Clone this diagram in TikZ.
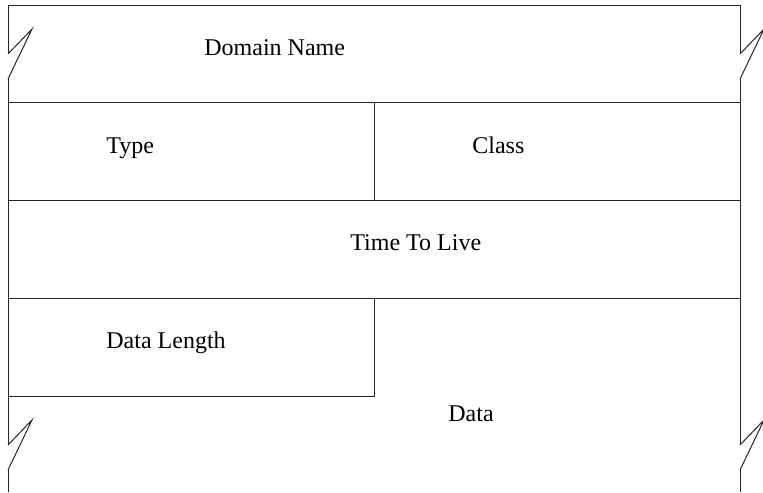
\documentclass[tikz,border=0pt]{standalone}
\usepackage{fontspec}
\setmainfont{Liberation Serif}
\usetikzlibrary{calc}
\def\breakmark(#1,#2){\draw[rrline] (#1, #2) -- ($(#1, #2)+(24, -25)$) -- ($(#1, #2)+(0, 25)$);}
\tikzset{
  rrline/.style={line width=0.5pt, color=black!85},
  fieldtext/.style={font=\fontsize{12}{14}\selectfont, inner sep=0pt, anchor=base west}
}

\begin{document}
\begin{tikzpicture}[x=0.5pt, y=-0.5pt]
		%%%%% START %%%%%
		\useasboundingbox (0, 0) rectangle (763, 492);

		% outer frame with breaks
		\draw[rrline] (8, 54) -- (8, 6) -- (740, 6) -- (740, 54);
		\breakmark(8, 54)
		\breakmark(740, 54)
		\draw[rrline] (8, 79) -- (8, 445);
		\draw[rrline] (740, 79) -- (740, 445);
		\breakmark(8, 445)
		\breakmark(740, 445)
		\draw[rrline] (8, 469) -- (8, 492);
		\draw[rrline] (740, 469) -- (740, 492);

		% field rows
		\draw[rrline] (8, 102) -- (740, 102);
		\draw[rrline] (8, 200) -- (740, 200);
		\draw[rrline] (8, 298) -- (740, 298);
		\draw[rrline] (374, 102) -- (374, 200);
		\draw[rrline] (374, 298) -- (374, 396) -- (8, 396);

		\node[fieldtext] (domain) at (204, 55) {Domain Name};
		\node[fieldtext] (type) at (106, 153) {Type};
		\node[fieldtext] (class) at (472, 153) {Class};
		\node[fieldtext] (ttl) at (350, 250) {Time To Live};
		\node[fieldtext] (datalen) at (106, 348) {Data Length};
		\node[fieldtext] (data) at (448, 421) {Data};
		%%%%% END %%%%%
\end{tikzpicture}
\end{document}
